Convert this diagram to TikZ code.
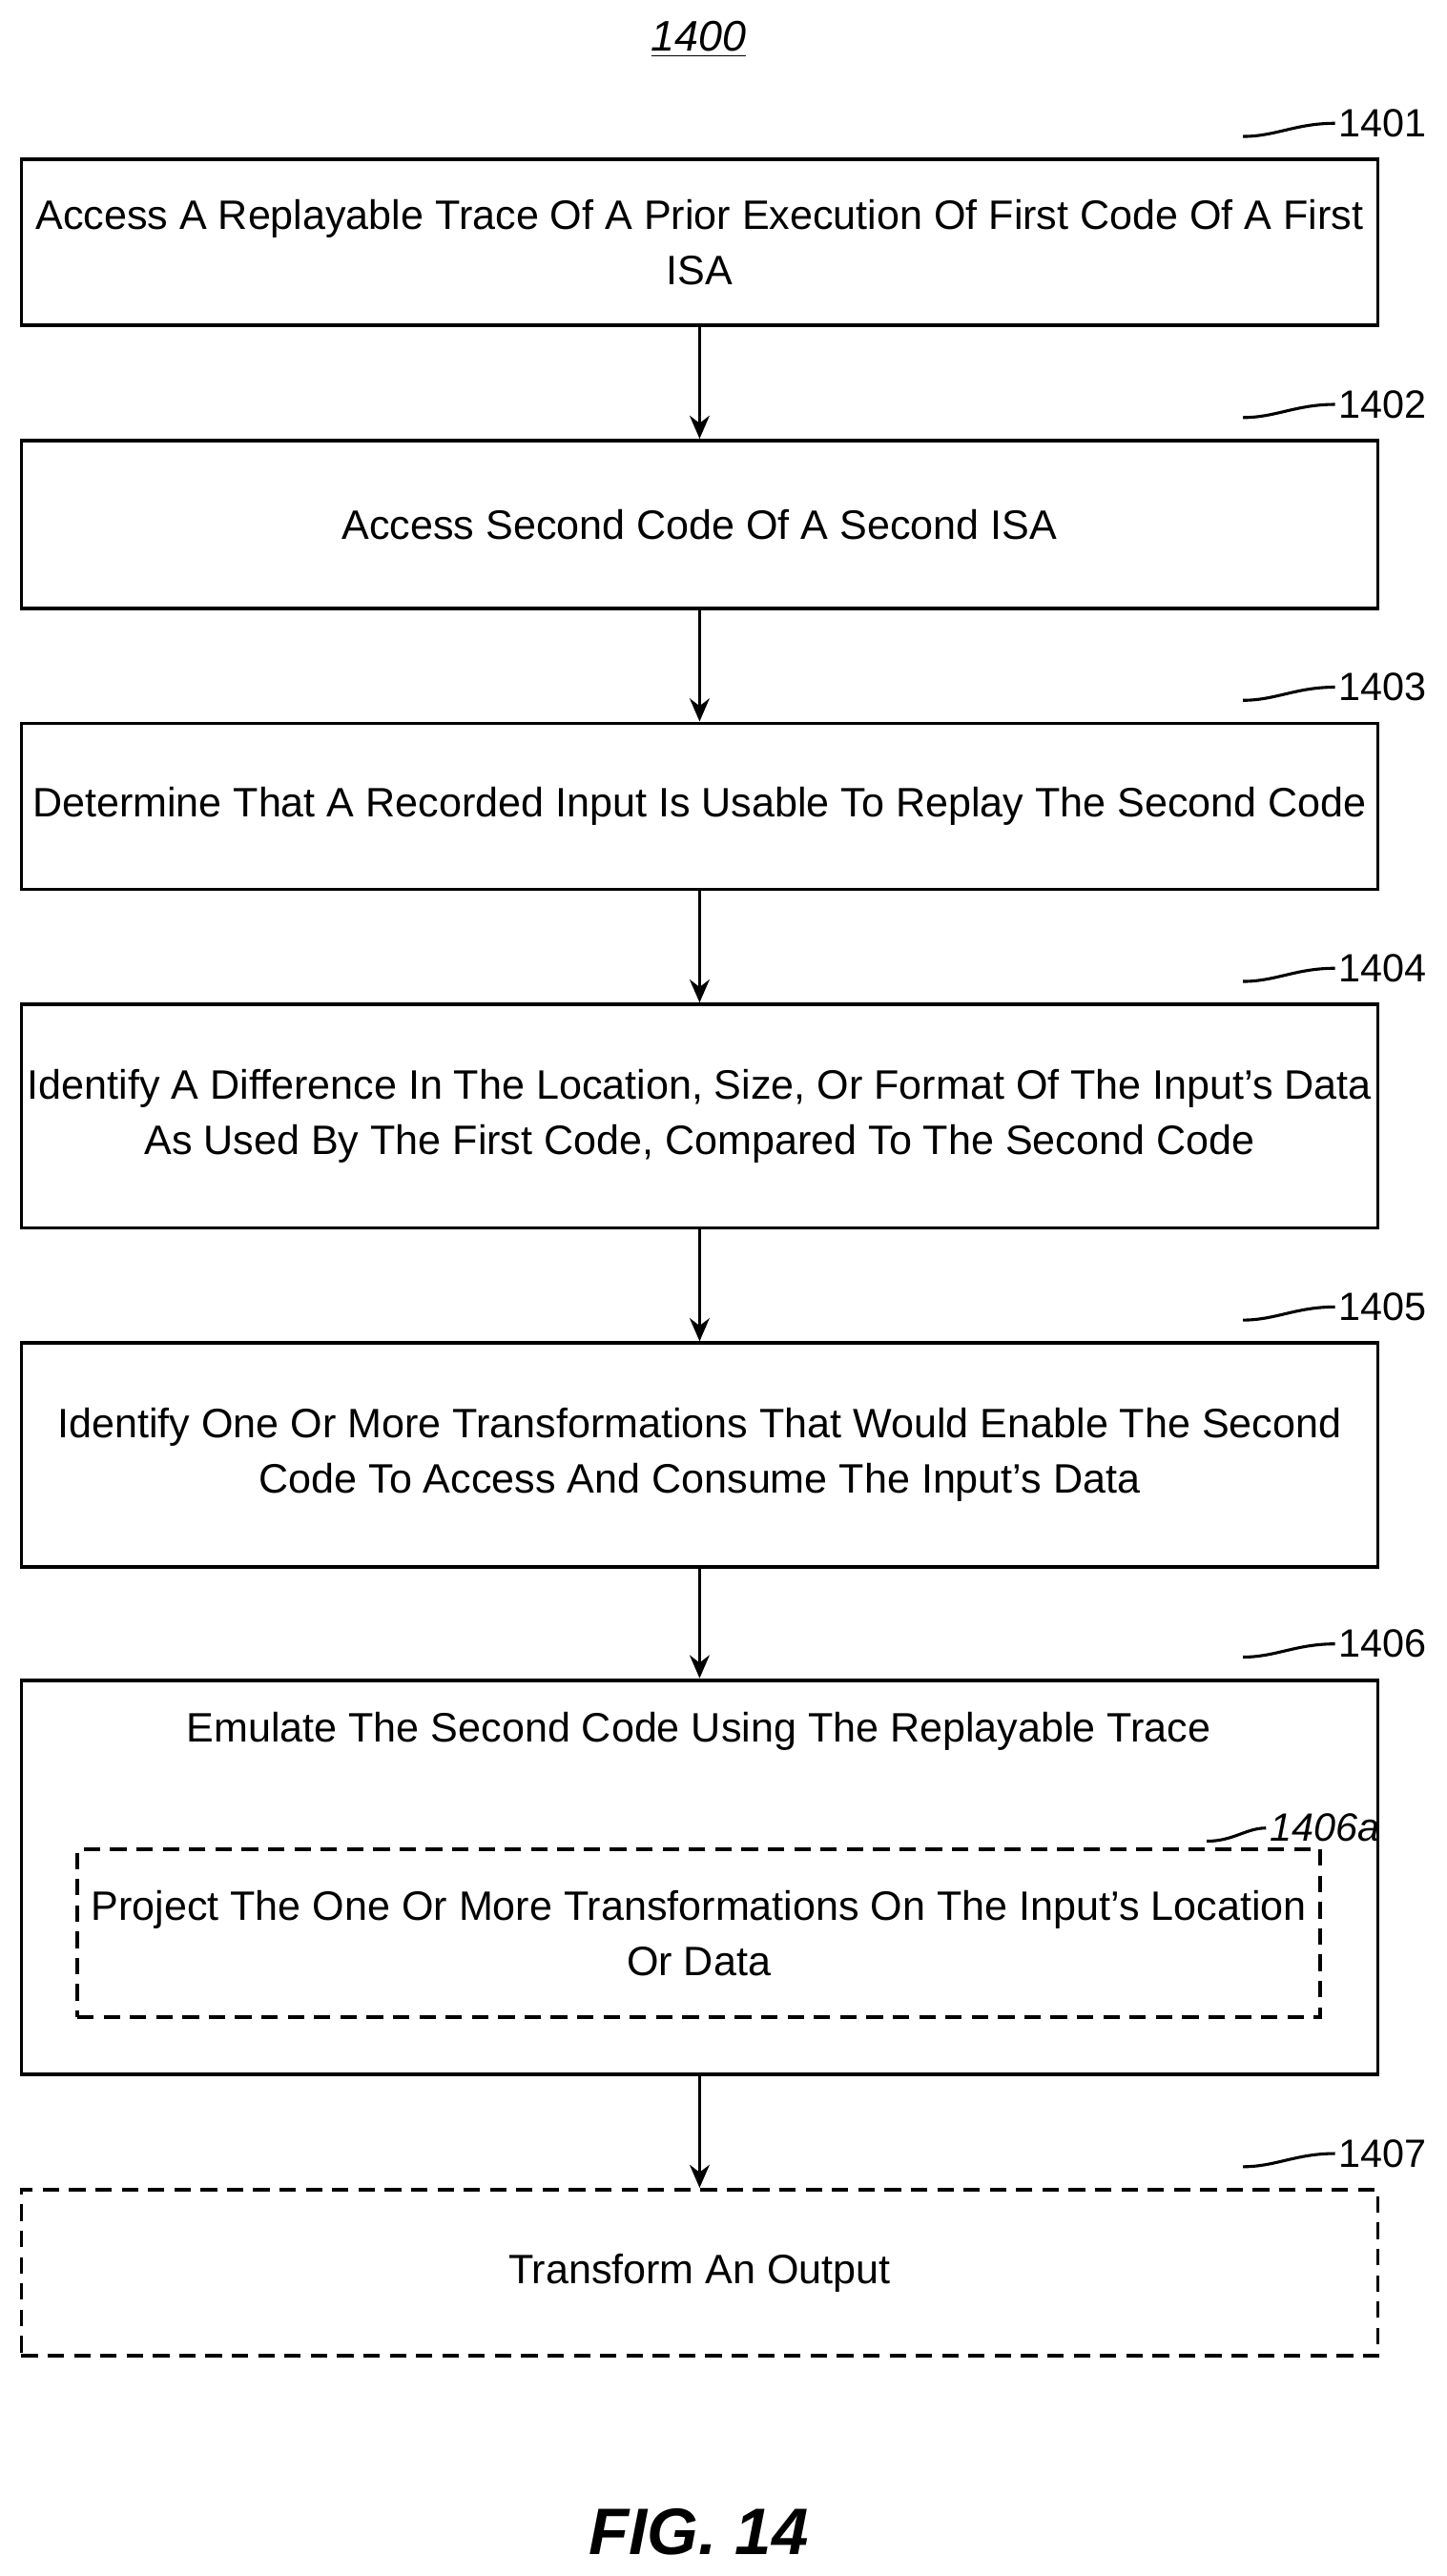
\documentclass[tikz,border=0pt]{standalone}
\usepackage{fontspec}
\setmainfont{Liberation Sans}
\usetikzlibrary{arrows.meta}
\begin{document}
\begin{tikzpicture}[x=0.5pt,y=-0.5pt,
  box/.style={draw,line width=1.1pt,minimum width=412.5pt,align=center,font=\fontsize{12.5}{17}\selectfont,inner sep=0pt},
  dbox/.style={box,dash pattern=on 5pt off 3pt},
  lab/.style={font=\fontsize{12}{14}\selectfont,anchor=west,inner sep=1pt},
  arr/.style={-{Stealth[length=7pt,width=6pt]},line width=1.1pt}]
\useasboundingbox (0,0) rectangle (880,1567);
\node (t) at (425,24) {\fontsize{13}{15}\selectfont\itshape\underline{1400}};
\node[box,minimum height=50.5pt] (b1) at (425.5,147.5) {Access A Replayable Trace Of A Prior Execution Of First Code Of A First\\ISA};
\node[box,minimum height=51pt] (b2) at (425.5,319) {Access Second Code Of A Second ISA};
\node[box,minimum height=50.5pt] (b3) at (425.5,490.5) {Determine That A Recorded Input Is Usable To Replay The Second Code};
\node[box,minimum height=68pt] (b4) at (425.5,679) {Identify A Difference In The Location, Size, Or Format Of The Input's Data\\As Used By The First Code, Compared To The Second Code};
\node[box,minimum height=68pt] (b5) at (425.5,885) {Identify One Or More Transformations That Would Enable The Second\\Code To Access And Consume The Input's Data};
\node[box,minimum height=120pt] (b6) at (425.5,1142) {};
\node[font=\fontsize{12.5}{17}\selectfont] (b6t) at (425,1053) {Emulate The Second Code Using The Replayable Trace};
\node[dbox,minimum width=378pt,minimum height=51pt] (b6a) at (425,1176) {Project The One Or More Transformations On The Input's Location\\Or Data};
\node[dbox,minimum height=50.5pt] (b7) at (425.5,1382.5) {Transform An Output};
\foreach \n/\y/\l in {b1/75/1401,b2/246/1402,b3/418/1403,b4/589/1404,b5/795/1405,b6/1000/1406,b7/1310/1407}{
  \node[lab] (l\n) at (812,\y) {\l};
  \draw[line width=0.9pt] ([xshift=-28pt,yshift=-4pt]l\n.west) .. controls ([xshift=-18pt,yshift=-4pt]l\n.west) and ([xshift=-12pt,yshift=0pt]l\n.west) .. (l\n.west);
}
\node[lab,font=\fontsize{12}{14}\selectfont\itshape] (lb6a) at (770,1112) {1406a};
\draw[line width=0.9pt] ([xshift=-18pt,yshift=-4pt]lb6a.west) .. controls ([xshift=-10pt,yshift=-4pt]lb6a.west) and ([xshift=-6pt]lb6a.west) .. (lb6a.west);
\draw[arr] (b1) -- (b2);
\draw[arr] (b2) -- (b3);
\draw[arr] (b3) -- (b4);
\draw[arr] (b4) -- (b5);
\draw[arr] (b5) -- (b6);
\draw[arr] (b6) -- (b7);
\node[font=\fontsize{20}{24}\selectfont\bfseries\itshape] (fig) at (425,1540) {FIG. 14};
\end{tikzpicture}
\end{document}
